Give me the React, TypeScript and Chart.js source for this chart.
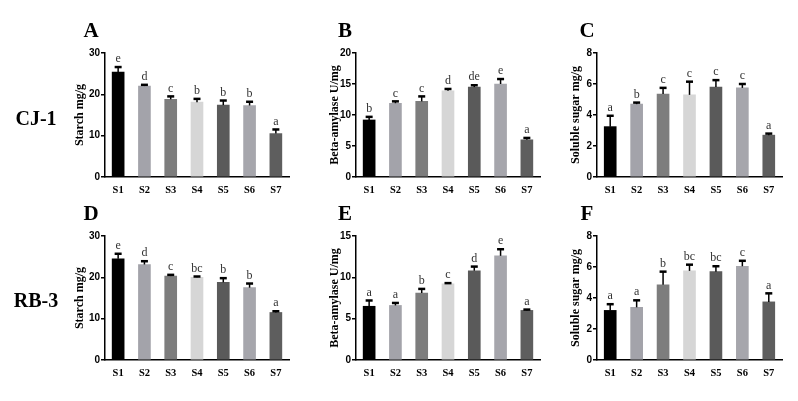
import React, { useEffect, useRef } from "react";
import { Chart, registerables } from "chart.js";
Chart.register(...registerables);

const categories = ["S1", "S2", "S3", "S4", "S5", "S6", "S7"];
const barColors = ["#000000", "#a3a3aa", "#7d7d7d", "#d6d6d6", "#5a5a5a", "#a6a6ac", "#5e5e5e"];

// Panel A – CJ-1 starch
const starchCJ = [25.4, 22.0, 18.8, 18.1, 17.4, 17.3, 10.5];
const starchCJErr = [1.2, 0.3, 0.7, 0.8, 1.1, 0.9, 1.0];
const starchCJSig = ["e", "d", "c", "b", "b", "b", "a"];
// Panel B – CJ-1 beta-amylase
const amylaseCJ = [9.2, 11.9, 12.2, 13.9, 14.5, 15.0, 6.0];
const amylaseCJErr = [0.5, 0.3, 0.8, 0.3, 0.3, 0.8, 0.3];
const amylaseCJSig = ["b", "c", "c", "d", "de", "e", "a"];
// Panel C – CJ-1 soluble sugar
const sugarCJ = [3.25, 4.7, 5.35, 5.3, 5.8, 5.75, 2.7];
const sugarCJErr = [0.7, 0.1, 0.4, 0.85, 0.45, 0.25, 0.1];
const sugarCJSig = ["a", "b", "c", "c", "c", "c", "a"];
// Panel D – RB-3 starch
const starchRB = [24.5, 23.1, 20.3, 20.0, 18.8, 17.5, 11.5];
const starchRBErr = [1.2, 0.8, 0.3, 0.2, 1.0, 1.0, 0.3];
const starchRBSig = ["e", "d", "c", "bc", "b", "b", "a"];
// Panel E – RB-3 beta-amylase
const amylaseRB = [6.5, 6.6, 8.1, 9.2, 10.8, 12.6, 6.0];
const amylaseRBErr = [0.7, 0.3, 0.5, 0.1, 0.5, 0.8, 0.1];
const amylaseRBSig = ["a", "a", "b", "c", "d", "e", "a"];
// Panel F – RB-3 soluble sugar
const sugarRB = [3.2, 3.4, 4.85, 5.75, 5.7, 6.05, 3.75];
const sugarRBErr = [0.4, 0.45, 0.85, 0.4, 0.35, 0.35, 0.55];
const sugarRBSig = ["a", "a", "b", "bc", "bc", "c", "a"];

const rowLabels = ["CJ-1", "RB-3"];
const panelLetters = ["A", "B", "C", "D", "E", "F"];
const yTitles = ["Starch mg/g", "Beta-amylase U/mg", "Soluble sugar mg/g"];

const SERIF = "'Liberation Serif', 'Times New Roman', serif";
const SANS = "'Liberation Sans', Arial, sans-serif";

type PanelProps = {
  L: number; R: number; T: number; B: number;
  yMax: number; yStep: number; title: string; titleOffset: number;
  values: number[]; errors: number[]; sig: string[];
};

const AXIS_W = 45;
const PAD_T = 16;
const PAD_R = 8;
const X_H = 24;

function Panel(p: PanelProps) {
  const ref = useRef<HTMLCanvasElement | null>(null);
  const w = p.R - p.L + AXIS_W + PAD_R;
  const h = p.B - p.T + PAD_T + X_H;
  useEffect(() => {
    if (!ref.current) return;
    const errPlugin = {
      id: "errbars",
      afterDatasetsDraw(chart: any) {
        const ctx = chart.ctx;
        const meta = chart.getDatasetMeta(0);
        const ys = chart.scales.y;
        ctx.save();
        meta.data.forEach((bar: any, i: number) => {
          const x = bar.x;
          const yTop = bar.y;
          const yErr = ys.getPixelForValue(p.values[i] + p.errors[i]);
          ctx.strokeStyle = "#000";
          ctx.lineWidth = 1.5;
          ctx.beginPath();
          ctx.moveTo(x, yTop);
          ctx.lineTo(x, yErr);
          ctx.stroke();
          ctx.lineWidth = 2.5;
          ctx.beginPath();
          ctx.moveTo(x - 3.5, yErr);
          ctx.lineTo(x + 3.5, yErr);
          ctx.stroke();
          ctx.fillStyle = "#333";
          ctx.font = `12px ${SERIF}`;
          ctx.textAlign = "center";
          ctx.textBaseline = "bottom";
          ctx.fillText(p.sig[i], x, yErr - 2);
        });
        ctx.restore();
      },
    };
    const chart = new Chart(ref.current, {
      type: "bar",
      data: {
        labels: categories,
        datasets: [
          {
            data: p.values,
            backgroundColor: barColors,
            borderWidth: 0,
            barThickness: 12,
          },
        ],
      },
      options: {
        animation: false,
        responsive: false,
        maintainAspectRatio: false,
        layout: { padding: { top: PAD_T, right: PAD_R, left: 0, bottom: 0 } },
        plugins: { legend: { display: false }, tooltip: { enabled: false } },
        scales: {
          x: {
            grid: { display: false, drawTicks: false },
            border: { color: "#000", width: 1.5 },
            ticks: { color: "#000", font: { family: SERIF, size: 10.5, weight: "bold" }, padding: 7 },
            afterFit: (s: any) => { s.height = X_H; },
          },
          y: {
            min: 0,
            max: p.yMax,
            ticks: { stepSize: p.yStep, color: "#000", font: { family: SANS, size: 10, weight: "bold" }, padding: 1 },
            grid: { drawOnChartArea: false, tickLength: 4, color: "#000", lineWidth: 1.5 },
            border: { color: "#000", width: 1.5 },
            title: {
              display: true,
              text: p.title,
              color: "#000",
              font: { family: SERIF, size: 12, weight: "bold" },
              padding: { top: p.titleOffset, bottom: 0 },
            },
            afterFit: (s: any) => { s.width = AXIS_W; },
          },
        },
      },
      plugins: [errPlugin],
    });
    return () => chart.destroy();
  }, []);
  return (
    <canvas
      ref={ref}
      width={w}
      height={h}
      style={{ position: "absolute", left: p.L - AXIS_W, top: p.T - PAD_T, width: w, height: h }}
    />
  );
}

const colL = [105, 356, 597];
const colR = [289, 540, 782];
const rowT = [53, 236];
const rowB = [177, 360];
const titleOffsets = [12.8, 16.8, 16.8];
const yMaxes = [[30, 20, 8], [30, 15, 8]];
const ySteps = [[10, 5, 2], [10, 5, 2]];
const valuesGrid = [[starchCJ, amylaseCJ, sugarCJ], [starchRB, amylaseRB, sugarRB]];
const errGrid = [[starchCJErr, amylaseCJErr, sugarCJErr], [starchRBErr, amylaseRBErr, sugarRBErr]];
const sigGrid = [[starchCJSig, amylaseCJSig, sugarCJSig], [starchRBSig, amylaseRBSig, sugarRBSig]];
const letterPos = [[91, 345, 587], [30, 213]];
const rowLabelY = [118, 300];

export default function App() {
  const panels: any[] = [];
  for (let r = 0; r < 2; r++) {
    for (let c = 0; c < 3; c++) {
      panels.push(
        <Panel
          key={`p${r}${c}`}
          L={colL[c]} R={colR[c]} T={rowT[r]} B={rowB[r]}
          yMax={yMaxes[r][c]} yStep={ySteps[r][c]}
          title={yTitles[c]} titleOffset={titleOffsets[c]}
          values={valuesGrid[r][c]} errors={errGrid[r][c]} sig={sigGrid[r][c]}
        />
      );
      panels.push(
        <div
          key={`l${r}${c}`}
          style={{
            position: "absolute",
            left: letterPos[0][c],
            top: letterPos[1][r],
            transform: "translate(-50%, -50%)",
            fontFamily: SERIF,
            fontWeight: "bold",
            fontSize: 21,
            lineHeight: 1,
          }}
        >
          {panelLetters[r * 3 + c]}
        </div>
      );
    }
    panels.push(
      <div
        key={`r${r}`}
        style={{
          position: "absolute",
          left: 36,
          top: rowLabelY[r],
          transform: "translate(-50%, -50%)",
          fontFamily: SERIF,
          fontWeight: "bold",
          fontSize: 20,
          lineHeight: 1,
          whiteSpace: "nowrap",
        }}
      >
        {rowLabels[r]}
      </div>
    );
  }
  return (
    <div style={{ position: "fixed", left: 0, top: 0, width: 798, height: 401, background: "#fff", overflow: "hidden" }}>
      {panels}
    </div>
  );
}
